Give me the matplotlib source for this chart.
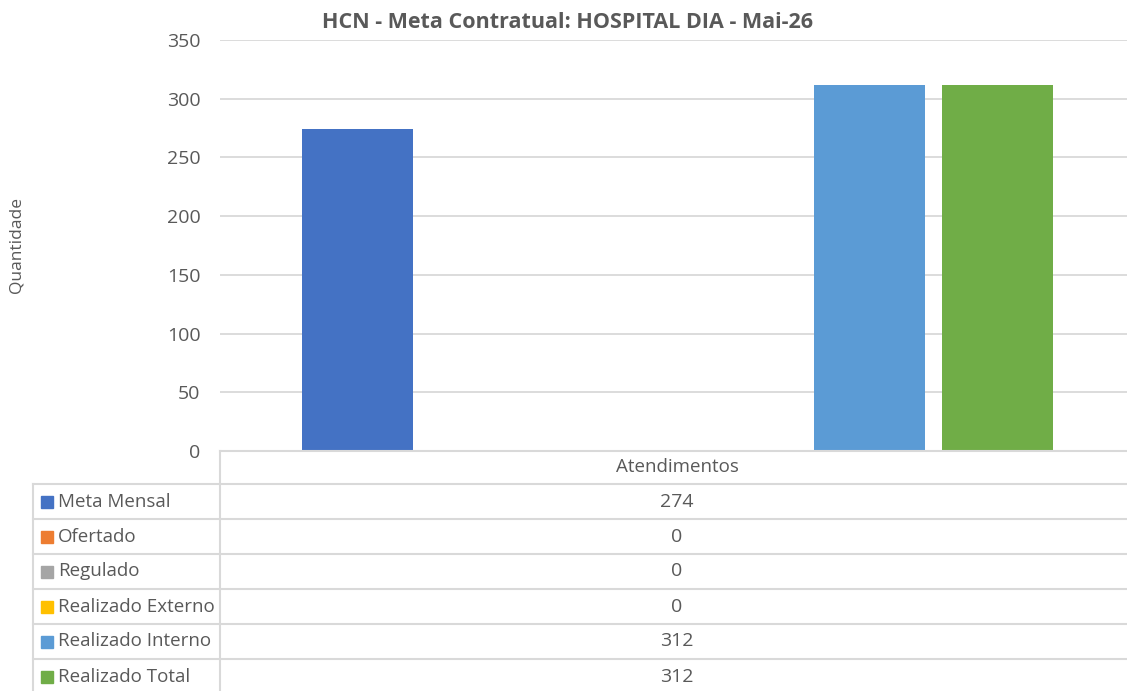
import matplotlib
matplotlib.use('Agg')
import matplotlib.pyplot as plt
from matplotlib.patches import Rectangle

plt.rcParams['font.family'] = ['Open Sans', 'DejaVu Sans']

# dados
titulo = 'HCN - Meta Contratual: HOSPITAL DIA - Mai-26'
categoria = 'Atendimentos'
series = ['Meta Mensal', 'Ofertado', 'Regulado', 'Realizado Externo',
          'Realizado Interno', 'Realizado Total']
valores = [274, 0, 0, 0, 312, 312]
cores = ['#4472C4', '#ED7D31', '#A5A5A5', '#FFC000', '#5B9BD5', '#70AD47']
yticks = [0, 50, 100, 150, 200, 250, 300, 350]

W, H = 1127, 691
TXT = '#595959'
GRID = '#D9D9D9'

fig = plt.figure(figsize=(W / 100, H / 100), dpi=100)

# area do grafico (em pixels da imagem), passa um pouco da borda direita
x0, x1 = 220, 1135
y0, y1 = 451, 40
ax = fig.add_axes([x0 / W, 1 - y0 / H, (x1 - x0) / W, (y0 - y1) / H])

n = len(series)
passo = 128 / (x1 - x0)
larg = 111 / (x1 - x0)
for i, (v, c) in enumerate(zip(valores, cores)):
    pos = (i - (n - 1) / 2) * passo
    ax.bar(pos, v, width=larg, color=c, zorder=3)

ax.set_xlim(-0.5, 0.5)
ax.set_ylim(0, 350)
ax.set_yticks(yticks)
ax.set_xticks([])
ax.grid(axis='y', color=GRID, linewidth=1.3, zorder=0)
for s in ax.spines.values():
    s.set_visible(False)
ax.tick_params(axis='y', length=0, pad=14, labelsize=14, labelcolor=TXT)

fig.text(17 / W, 1 - 245 / H, 'Quantidade', rotation=90, ha='center',
         va='center', fontsize=12.5, color=TXT)
fig.text(568 / W, 1 - 22 / H, titulo, ha='center', va='center',
         fontsize=15.5, fontweight='bold', color=TXT)

# tabela de dados desenhada em coordenadas de pixel
tb = fig.add_axes([0, 0, 1, 1])
tb.set_xlim(0, W)
tb.set_ylim(H, 0)
tb.axis('off')

lw = 1.5
col_esq, col_meio = 33, 220
topo, alt = 451, 35
tb.plot([col_meio, W], [topo, topo], color=GRID, lw=lw)
tb.plot([col_meio, col_meio], [topo, H], color=GRID, lw=lw)
tb.plot([col_esq, col_esq], [topo + 33, H], color=GRID, lw=lw)
tb.text(677, topo + 16, categoria, ha='center', va='center',
        fontsize=13.5, color=TXT)

for i, (s, v, c) in enumerate(zip(series, valores, cores)):
    yt = topo + 33 + i * alt
    tb.plot([col_esq, W], [yt, yt], color=GRID, lw=lw)
    ym = yt + alt / 2
    tb.add_patch(Rectangle((41, ym - 6), 12, 12, color=c))
    tb.text(58, ym, s, ha='left', va='center', fontsize=13.5, color=TXT)
    tb.text(677, ym, str(v), ha='center', va='center', fontsize=14,
            color=TXT)

fig.savefig('out.png', dpi=100)
